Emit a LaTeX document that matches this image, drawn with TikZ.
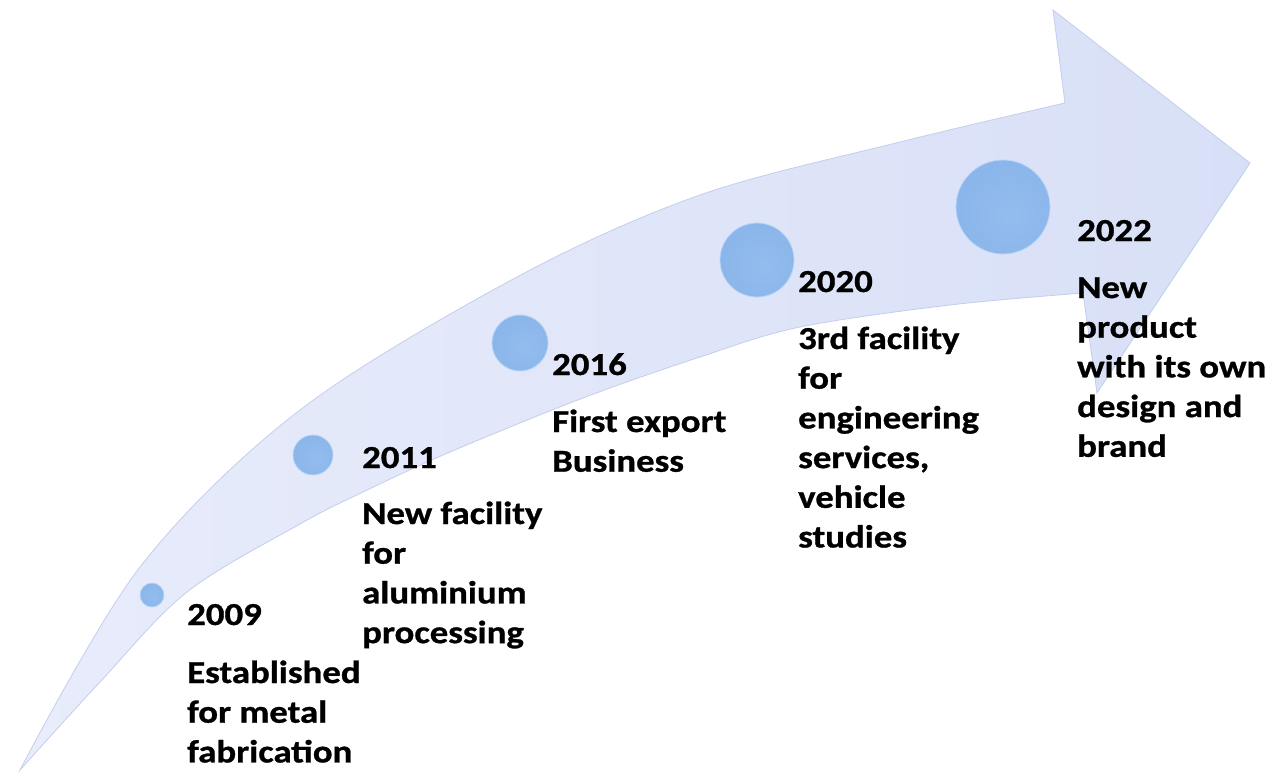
\documentclass[tikz,border=0pt]{standalone}
\usepackage{fontspec}
\setmainfont{Carlito}[FakeStretch=1.15, BoldFeatures={FakeBold=0.9}]
\definecolor{arrowL}{RGB}{232,236,251}
\definecolor{arrowR}{RGB}{216,224,247}
\definecolor{arrowE}{RGB}{196,206,236}
\definecolor{glowC}{RGB}{185,212,245}
\pgfdeclareradialshading{bubble}{\pgfpoint{5bp}{-5bp}}{%
  rgb(0bp)=(0.58,0.74,0.93);
  rgb(30bp)=(0.54,0.71,0.92);
  rgb(42bp)=(0.48,0.65,0.88);
  rgb(52bp)=(0.40,0.56,0.80);
  rgb(58bp)=(0.34,0.48,0.72)}
\tikzset{
  arrowshape/.style={left color=arrowL, right color=arrowR, draw=arrowE, line width=0.8pt},
  bubble/.style={shading=bubble, draw=glowC, line width=0.8pt},
  yearlbl/.style={anchor=base west, inner sep=0pt, font=\bfseries\fontsize{32}{39.7}\selectfont},
  desclbl/.style={anchor=base west, inner sep=0pt, align=left, font=\bfseries\fontsize{32}{39.7}\selectfont}
}
\begin{document}
\begin{tikzpicture}[x=1pt,y=-1pt]
\useasboundingbox (0,0) rectangle (1272,773);
\fill[white] (0,0) rectangle (1272,773);
% arrow
\path[arrowshape]
  plot[smooth, tension=0.55] coordinates {(20,770) (140,567) (300,410) (517,277) (700,195) (900,142) (1065,103)}
  -- (1053,10) -- (1250,163) -- (1097,393) -- (1083,293)
  -- plot[smooth, tension=0.55] coordinates {(1083,293) (950,305) (800,327) (700,357) (583,398) (450,452) (363,492) (300,524) (187,592) (100,682) (20,770)}
  -- cycle;
% bubbles
\path[bubble] (152,595) circle[radius=12];
\coordinate (b1) at (152,595);
\path[bubble] (313,455) circle[radius=20];
\coordinate (b2) at (313,455);
\path[bubble] (520,343) circle[radius=28];
\coordinate (b3) at (520,343);
\path[bubble] (757,260) circle[radius=37];
\coordinate (b4) at (757,260);
\path[bubble] (1003,207) circle[radius=47];
\coordinate (b5) at (1003,207);
% labels (multi-line nodes: base = last line)
\node[yearlbl] (y1) at (187,625) {2009};
\node[desclbl] (d1) at (187,762.4) {Established\\for metal\\fabrication};
\node[yearlbl] (y2) at (362,468) {2011};
\node[desclbl] (d2) at (362,643.1) {New facility\\for\\aluminium\\processing};
\node[yearlbl] (y3) at (552,375) {2016};
\node[desclbl] (d3) at (552,471.7) {First export\\Business};
\node[yearlbl] (y4) at (798,292) {2020};
\node[desclbl] (d4) at (798,547.5) {3rd facility\\for\\engineering\\services,\\vehicle\\studies};
\node[yearlbl] (y5) at (1077,241) {2022};
\node[desclbl] (d5) at (1077,456.8) {New\\product\\with its own\\design and\\brand};
\end{tikzpicture}
\end{document}
